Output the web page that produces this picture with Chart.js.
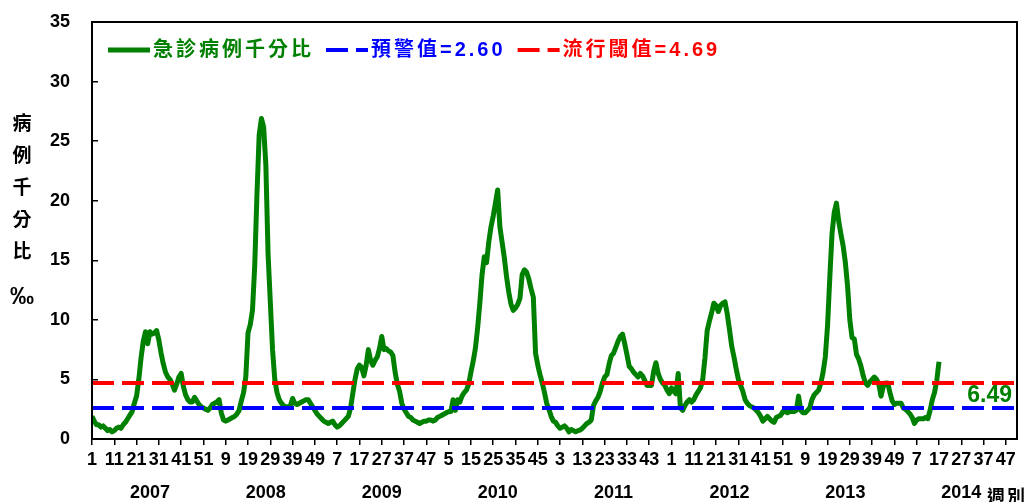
<!DOCTYPE html>
<html>
<head>
<meta charset="utf-8">
<script src="https://cdn.jsdelivr.net/npm/chart.js@4.4.1/dist/chart.umd.min.js"></script>
<style>
  body { margin: 0; background: #fff; }
  canvas { display: block; }
</style>
</head>
<body>
<canvas id="myChart" width="1026" height="502" style="width:1026px;height:502px"></canvas>
<script>
// semanas por año (eje x de 2007 a 2014)
const years = ['2007', '2008', '2009', '2010', '2011', '2012', '2013', '2014']
const weeksInYear = [52, 52, 52, 52, 52, 52, 52, 52]

// 急診病例千分比 por semana
const rate2007 = [1.9, 1.5, 1.2, 1.2, 1.0, 1.1, 0.9, 0.7, 0.8, 0.6, 0.7, 0.9, 1.0, 0.9, 1.2, 1.4, 1.7, 2.0, 2.3, 3.0,
    3.6, 5.0, 6.8, 8.2, 9.0, 8.0, 9.0, 8.8, 8.9, 9.1, 8.3, 7.2, 6.3, 5.6, 5.2, 5.0, 4.6, 4.1, 4.6, 5.2,
    5.5, 4.4, 3.7, 3.3, 3.1, 3.1, 3.5, 3.2, 2.9, 2.7, 2.6, 2.5]
const rate2008 = [2.4, 2.6, 2.9, 3.0, 3.1, 3.3, 2.2, 1.6, 1.5, 1.6, 1.7, 1.8, 1.9, 2.1, 2.4, 3.2, 3.9, 5.2, 8.9, 9.6,
    10.8, 14.5, 20.5, 25.5, 26.9, 26.2, 23.0, 15.5, 11.5, 7.5, 5.0, 3.9, 3.3, 3.0, 2.8, 2.7, 2.7, 2.8, 3.4, 3.0,
    2.9, 3.0, 3.1, 3.2, 3.3, 3.3, 3.0, 2.7, 2.4, 2.1, 1.9, 1.7]
const rate2009 = [1.5, 1.4, 1.3, 1.4, 1.5, 1.2, 1.0, 1.1, 1.3, 1.5, 1.7, 1.9, 2.6, 3.8, 5.0, 5.9, 6.2, 6.0, 5.3, 6.2,
    7.5, 6.6, 6.2, 6.6, 6.9, 7.6, 8.6, 7.5, 7.6, 7.4, 7.3, 7.0, 5.6, 4.6, 4.0, 3.0, 2.5, 2.2, 1.9, 1.8,
    1.6, 1.5, 1.4, 1.3, 1.4, 1.5, 1.5, 1.6, 1.6, 1.5, 1.6, 1.8]
const rate2010 = [1.9, 2.0, 2.1, 2.2, 2.3, 2.3, 3.3, 2.4, 3.3, 3.1, 3.6, 3.9, 4.1, 4.6, 5.6, 6.5, 7.6, 9.3, 11.4, 13.8,
    15.3, 14.8, 16.5, 17.8, 18.7, 19.8, 20.9, 17.8, 16.5, 15.2, 13.6, 12.3, 11.3, 10.8, 11.0, 11.3, 11.8, 13.8, 14.2, 14.0,
    13.4, 12.6, 11.9, 7.2, 6.2, 5.4, 4.7, 3.9, 3.0, 2.5, 1.9, 1.5]
const rate2011 = [1.4, 1.1, 0.9, 1.0, 1.1, 0.9, 0.6, 0.8, 0.7, 0.6, 0.7, 0.75, 0.9, 1.1, 1.3, 1.4, 1.6, 2.8, 3.2, 3.5,
    4.0, 4.7, 5.2, 5.4, 6.3, 7.0, 7.2, 7.7, 8.2, 8.6, 8.8, 8.0, 7.1, 6.1, 5.9, 5.6, 5.4, 5.2, 5.5, 5.3,
    4.9, 4.5, 4.5, 4.5, 5.7, 6.4, 5.5, 5.0, 4.7, 4.5, 4.1, 3.8]
const rate2012 = [4.3, 4.0, 3.8, 5.5, 2.6, 2.4, 2.8, 3.1, 3.3, 3.1, 3.3, 3.7, 4.0, 4.3, 5.0, 6.8, 9.1, 9.9, 10.6, 11.4,
    11.2, 10.7, 11.2, 11.4, 11.5, 10.5, 9.2, 7.8, 6.9, 5.9, 5.0, 4.5, 4.0, 3.3, 3.0, 2.8, 2.7, 2.6, 2.4, 2.2,
    1.9, 1.5, 1.7, 1.9, 1.7, 1.5, 1.4, 1.8, 1.9, 2.0, 2.3, 2.3]
const rate2013 = [2.2, 2.3, 2.3, 2.3, 2.4, 3.6, 2.4, 2.2, 2.2, 2.4, 2.6, 3.3, 3.7, 3.9, 4.1, 4.7, 5.6, 6.9, 9.5, 13.5,
    17.2, 19.0, 19.8, 18.3, 17.2, 16.2, 14.8, 12.8, 10.0, 8.5, 8.4, 7.1, 6.7, 6.1, 5.3, 4.7, 4.5, 4.8, 5.0, 5.2,
    5.0, 4.6, 3.6, 4.4, 4.7, 4.7, 3.9, 3.2, 2.9, 3.0, 3.0, 3.0]
const rate2014 = [2.6, 2.5, 2.3, 2.1, 1.8, 1.3, 1.6, 1.7, 1.7, 1.7, 1.8, 1.7, 2.4, 3.3, 3.9, 4.9, 6.49]

const warnLevel = 2.60
const epidemicLevel = 4.69

const serieLabel = '急診病例千分比'
const warnLabel = '預警值=' + warnLevel.toFixed(2)
const epidemicLabel = '流行閾值=' + epidemicLevel.toFixed(2)
const yTitle = '病例千分比‰'
const xTitle = '週別'

const rates = [].concat(rate2007, rate2008, rate2009, rate2010, rate2011, rate2012, rate2013, rate2014)

// etiquetas de semana y posicion de cada año
const weekLabels = []
const yearStart = []
weeksInYear.forEach((n) => {
    yearStart.push(weekLabels.length)
    for (let w = 1; w <= n; w++) weekLabels.push(String(w))
})
const lastIndex = weekLabels.length - 1

const green = '#008000'
const blue = '#0000FF'
const red = '#FF0000'
const fuente = '"Liberation Sans", Arial, sans-serif'

Chart.defaults.font.family = fuente
Chart.defaults.color = '#000'

const leyendaDentro = {
    id: 'leyendaDentro',
    afterDatasetsDraw(chart) {
        const ctx = chart.ctx
        const area = chart.chartArea
        let x = area.left + 16
        const y = area.top + 28
        ctx.save()
        ctx.font = 'bold 20px "Liberation Sans", "Noto Sans CJK TC", sans-serif'
        ctx.letterSpacing = '3px'
        ctx.textBaseline = 'middle'
        ctx.textAlign = 'left'
        chart.data.datasets.forEach((ds) => {
            ctx.beginPath()
            ctx.setLineDash(ds.borderDash || [])
            ctx.lineWidth = ds.borderWidth
            ctx.strokeStyle = ds.borderColor
            ctx.moveTo(x, y)
            ctx.lineTo(x + 42, y)
            ctx.stroke()
            x += 45
            ctx.fillStyle = ds.borderColor
            ctx.fillText(ds.label, x, y)
            x += ctx.measureText(ds.label).width + 12
        })
        ctx.restore()
    }
}

const textosExtra = {
    id: 'textosExtra',
    afterDraw(chart) {
        const ctx = chart.ctx
        const area = chart.chartArea
        ctx.save()
        // marco del grafico
        ctx.strokeStyle = '#000'
        ctx.lineWidth = 2
        ctx.strokeRect(area.left, area.top, area.right - area.left, area.bottom - area.top)

        // titulo vertical del eje y
        ctx.fillStyle = '#000'
        ctx.textAlign = 'center'
        ctx.textBaseline = 'middle'
        Array.from(yTitle).forEach((ch, i) => {
            ctx.font = i === 5 ? 'bold 24px ' + fuente : 'bold 19px "Noto Sans CJK TC", sans-serif'
            ctx.fillText(ch, 22, 123 + i * 32 + (i === 5 ? 14 : 0))
        })

        // titulo del eje x
        ctx.font = 'bold 18px "Noto Sans CJK TC", sans-serif'
        ctx.letterSpacing = '2px'
        ctx.fillText(xTitle, 1007, 496)
        ctx.letterSpacing = '0px'

        // ultimo valor
        const yScale = chart.scales.y
        ctx.fillStyle = green
        ctx.textAlign = 'right'
        ctx.font = 'bold 23px ' + fuente
        ctx.fillText(rates[rates.length - 1].toFixed(2), area.right - 5,
            yScale.getPixelForValue((warnLevel + epidemicLevel) / 2))
        ctx.restore()
    }
}

const config = {
    type: 'line',
    data: {
        datasets: [
            {
                label: serieLabel,
                data: rates.map((v, i) => ({ x: i, y: v })),
                borderColor: green,
                backgroundColor: green,
                borderWidth: 5,
                pointRadius: 0,
                borderJoinStyle: 'round',
                order: 2
            },
            {
                label: warnLabel,
                data: [{ x: 0, y: warnLevel }, { x: lastIndex, y: warnLevel }],
                borderColor: blue,
                backgroundColor: blue,
                borderWidth: 4,
                borderDash: [22, 8],
                pointRadius: 0,
                order: 1
            },
            {
                label: epidemicLabel,
                data: [{ x: 0, y: epidemicLevel }, { x: lastIndex, y: epidemicLevel }],
                borderColor: red,
                backgroundColor: red,
                borderWidth: 4,
                borderDash: [22, 8],
                pointRadius: 0,
                order: 0
            }
        ]
    },
    options: {
        responsive: false,
        animation: false,
        layout: { padding: { top: 22, right: 9, bottom: 0, left: 0 } },
        plugins: {
            legend: { display: false },
            tooltip: { enabled: false }
        },
        scales: {
            x: {
                type: 'linear',
                min: 0,
                max: lastIndex,
                weight: 0,
                grid: { drawOnChartArea: false, tickLength: 6, color: '#000', lineWidth: 1.5 },
                border: { color: '#000', width: 2 },
                ticks: {
                    stepSize: 10,
                    includeBounds: false,
                    autoSkip: false,
                    maxRotation: 0,
                    minRotation: 0,
                    padding: 4,
                    color: '#000',
                    font: { size: 18, weight: 'bold' },
                    callback: (value) => weekLabels[value]
                },
                afterFit: (s) => { s.height = 35 }
            },
            x2: {
                type: 'linear',
                position: 'bottom',
                min: 0,
                max: lastIndex,
                weight: 1,
                grid: { display: false },
                border: { display: false },
                ticks: {
                    autoSkip: false,
                    maxRotation: 0,
                    minRotation: 0,
                    padding: 0,
                    color: '#000',
                    font: { size: 18, weight: 'bold' },
                    callback: (value, index) => years[index]
                },
                afterBuildTicks: (s) => {
                    s.ticks = yearStart.map((start) => ({ value: start + 26 }))
                },
                afterFit: (s) => { s.height = 28 }
            },
            y: {
                min: 0,
                max: 35,
                grid: { drawOnChartArea: false, tickLength: -6, color: '#000', lineWidth: 1.5 },
                border: { color: '#000', width: 2 },
                ticks: {
                    stepSize: 5,
                    padding: 28,
                    color: '#000',
                    font: { size: 18, weight: 'bold' }
                },
                afterFit: (s) => {
                    s.width = 92
                    s.paddingTop = 0
                    s.paddingBottom = 0
                }
            }
        }
    },
    plugins: [leyendaDentro, textosExtra]
}

new Chart(document.getElementById('myChart'), config)
</script>
</body>
</html>
